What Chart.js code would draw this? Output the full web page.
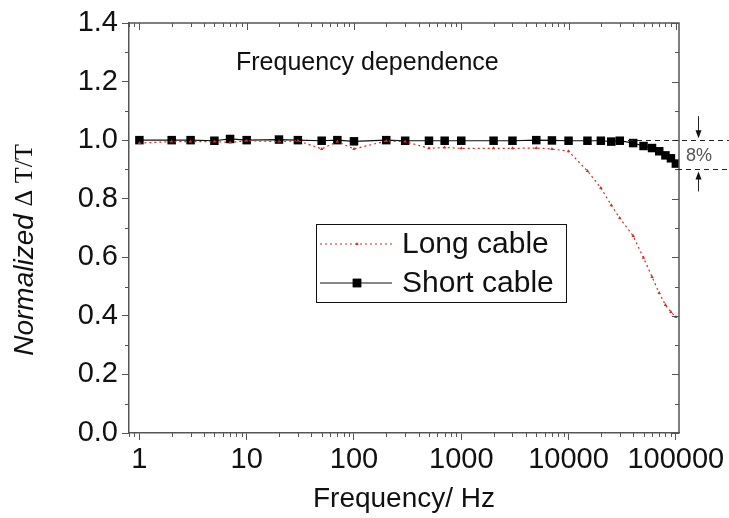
<!DOCTYPE html>
<html>
<head>
<meta charset="utf-8">
<script src="https://cdn.jsdelivr.net/npm/chart.js@4.4.1/dist/chart.umd.min.js"></script>
<style>
  html, body { margin: 0; padding: 0; background: #fff; }
  #c { display: block; }
</style>
</head>
<body>
<canvas id="c" width="729" height="518"></canvas>
<script>
// Measurement frequencies (Hz)
const frequencies = [1, 2, 3, 5, 7, 10, 20, 30, 50, 70, 100, 200, 300, 500, 700,
  1000, 2000, 3000, 5000, 7000, 10000, 15000, 20000, 25000, 30000,
  40000, 50000, 60000, 70000, 80000, 90000, 100000];

// Normalized ΔT/T, long cable
const longCable = [0.990, 0.995, 0.995, 0.995, 0.992, 0.998, 0.995, 0.998, 0.970, 0.995,
  0.970, 0.997, 0.995, 0.972, 0.975, 0.972, 0.972, 0.972, 0.973, 0.970, 0.962,
  0.895, 0.837, 0.778, 0.734, 0.673, 0.598, 0.533, 0.478, 0.437, 0.413, 0.396];

// Normalized ΔT/T, short cable
const shortCable = [1.000, 1.000, 1.000, 0.998, 1.004, 1.000, 1.002, 1.000, 0.998, 1.000,
  0.996, 1.000, 0.998, 0.998, 0.998, 0.998, 0.998, 0.998, 1.000, 0.999, 0.998,
  0.998, 0.998, 0.995, 0.998, 0.990, 0.980, 0.973, 0.962, 0.948, 0.938, 0.920];

const xMajorTicks = [1, 10, 100, 1000, 10000, 100000];
const yMajorTicks = [0, 0.2, 0.4, 0.6, 0.8, 1.0, 1.2, 1.4];
const yMinorTicks = [0.1, 0.3, 0.5, 0.7, 0.9, 1.1, 1.3];

// Reference levels marked at the right edge (8% drop)
const dropLevels = [1.0, 0.9];
const dropLabel = '8%';

const AXIS = '#555';
const SANS = '"Liberation Sans", Arial, sans-serif';

function xMinorTicks(min, max) {
  const out = [];
  for (let e = -1; e <= 5; e++) {
    for (let m = 2; m <= 9; m++) {
      const v = m * Math.pow(10, e);
      if (v >= min && v <= max) out.push(v);
    }
  }
  return out;
}

const framePlugin = {
  id: 'frame',
  afterDraw(chart) {
    const ctx = chart.ctx;
    const x = chart.scales.x, y = chart.scales.y;
    const a = chart.chartArea;
    ctx.save();
    // top and right frame lines
    ctx.strokeStyle = AXIS;
    ctx.lineWidth = 1.5;
    ctx.beginPath();
    ctx.moveTo(a.left, a.top); ctx.lineTo(a.right, a.top); ctx.lineTo(a.right, a.bottom);
    ctx.stroke();

    ctx.lineWidth = 1;
    ctx.beginPath();
    // x ticks: bottom minor outward, top major/minor inward
    xMinorTicks(x.min, x.max).forEach(v => {
      const px = Math.round(x.getPixelForValue(v)) + 0.5;
      ctx.moveTo(px, a.bottom); ctx.lineTo(px, a.bottom + 4);
      ctx.moveTo(px, a.top); ctx.lineTo(px, a.top + 4);
    });
    xMajorTicks.forEach(v => {
      const px = Math.round(x.getPixelForValue(v)) + 0.5;
      ctx.moveTo(px, a.top); ctx.lineTo(px, a.top + 7);
    });
    // y ticks: left minor outward, right major/minor inward
    yMinorTicks.forEach(v => {
      const py = Math.round(y.getPixelForValue(v)) + 0.5;
      ctx.moveTo(a.left - 4, py); ctx.lineTo(a.left, py);
      ctx.moveTo(a.right - 4, py); ctx.lineTo(a.right, py);
    });
    yMajorTicks.forEach(v => {
      const py = Math.round(y.getPixelForValue(v)) + 0.5;
      ctx.moveTo(a.right - 7, py); ctx.lineTo(a.right, py);
    });
    ctx.stroke();

    // y axis title: "Normalized" in italic sans, "Δ T/T" in serif
    ctx.save();
    ctx.translate(25, 250);
    ctx.rotate(-Math.PI / 2);
    ctx.fillStyle = '#111';
    ctx.textBaseline = 'middle';
    const f1 = 'italic 28px ' + SANS;
    const f2 = '26px "Liberation Serif", "Times New Roman", serif';
    ctx.font = f1;
    const t1 = 'Normalized ';
    const w1 = ctx.measureText(t1).width;
    ctx.font = f2;
    const t2 = '\u0394 T/T';
    const w2 = ctx.measureText(t2).width;
    const start = -(w1 + w2) / 2;
    ctx.font = f1; ctx.textAlign = 'left';
    ctx.fillText(t1, start, 0);
    ctx.font = f2;
    ctx.fillText(t2, start + w1, 0);
    ctx.restore();

    // in-plot title
    ctx.fillStyle = '#111';
    ctx.font = '25px ' + SANS;
    ctx.textAlign = 'left';
    ctx.textBaseline = 'alphabetic';
    ctx.fillText('Frequency dependence', 236, 70);

    // legend box
    const lx = 316, ly = 224, lw = 250, lh = 78;
    ctx.fillStyle = '#fff';
    ctx.fillRect(lx, ly, lw, lh);
    ctx.strokeStyle = '#111';
    ctx.lineWidth = 1;
    ctx.strokeRect(lx + 0.5, ly + 0.5, lw, lh);
    chart.data.datasets.forEach((ds, i) => {
      const cy = ly + 20 + i * 39;
      ctx.save();
      ctx.strokeStyle = ds.borderColor;
      ctx.lineWidth = ds.borderWidth;
      ctx.setLineDash(ds.borderDash || []);
      ctx.beginPath();
      ctx.moveTo(lx + 4, cy); ctx.lineTo(lx + 76, cy);
      ctx.stroke();
      ctx.restore();
      Chart.helpers.drawPoint(ctx, {
        pointStyle: ds.pointStyle, radius: ds.pointRadius, borderWidth: 0, rotation: 0
      }, lx + 41, cy);
      ctx.fillStyle = ds.pointBackgroundColor;
      ctx.fill();
      ctx.fillStyle = '#111';
      ctx.font = '30px ' + SANS;
      ctx.textAlign = 'left';
      ctx.textBaseline = 'middle';
      ctx.fillText(ds.label, lx + 86, cy + 1);
    });

    // 8% drop marker at right edge
    const yTop = y.getPixelForValue(dropLevels[0]);
    const yBot = y.getPixelForValue(dropLevels[1]);
    ctx.strokeStyle = '#222';
    ctx.lineWidth = 1;
    ctx.setLineDash([5, 4]);
    ctx.beginPath();
    ctx.moveTo(628, Math.round(yTop) + 0.5); ctx.lineTo(729, Math.round(yTop) + 0.5);
    ctx.moveTo(677, Math.round(yBot) + 0.5); ctx.lineTo(729, Math.round(yBot) + 0.5);
    ctx.stroke();
    ctx.setLineDash([]);
    const ax = 698.5;
    ctx.beginPath();
    ctx.moveTo(ax, yTop - 24); ctx.lineTo(ax, yTop - 4);
    ctx.moveTo(ax, yBot + 4); ctx.lineTo(ax, yBot + 22);
    ctx.stroke();
    ctx.fillStyle = '#111';
    ctx.beginPath();
    ctx.moveTo(ax - 3, yTop - 10); ctx.lineTo(ax + 3, yTop - 10); ctx.lineTo(ax, yTop - 2); ctx.closePath();
    ctx.moveTo(ax - 3, yBot + 10); ctx.lineTo(ax + 3, yBot + 10); ctx.lineTo(ax, yBot + 2); ctx.closePath();
    ctx.fill();
    ctx.fillStyle = '#555';
    ctx.font = '18px ' + SANS;
    ctx.textAlign = 'center';
    ctx.textBaseline = 'middle';
    ctx.fillText(dropLabel, 699, (yTop + yBot) / 2 + 1);
    ctx.restore();
  }
};

new Chart(document.getElementById('c'), {
  type: 'line',
  data: {
    labels: frequencies,
    datasets: [
      {
        label: 'Long cable',
        data: frequencies.map((f, i) => ({ x: f, y: longCable[i] })),
        borderColor: '#d62828',
        borderWidth: 1.2,
        borderDash: [2, 3],
        pointStyle: 'triangle',
        pointRadius: 2,
        pointBackgroundColor: '#d62828',
        pointBorderColor: '#d62828',
        pointBorderWidth: 0,
        tension: 0
      },
      {
        label: 'Short cable',
        data: frequencies.map((f, i) => ({ x: f, y: shortCable[i] })),
        borderColor: '#111',
        borderWidth: 1.2,
        pointStyle: 'rect',
        pointRadius: 6,
        pointBackgroundColor: '#000',
        pointBorderColor: '#000',
        pointBorderWidth: 0,
        tension: 0
      }
    ]
  },
  options: {
    responsive: false,
    animation: false,
    layout: { padding: { top: 23, right: 50, left: 0, bottom: 0 } },
    plugins: { legend: { display: false }, tooltip: { enabled: false } },
    scales: {
      x: {
        type: 'logarithmic',
        min: 0.8,
        max: 107000,
        afterBuildTicks: s => { s.ticks = xMajorTicks.map(v => ({ value: v })); },
        afterFit: s => { s.height = 85; },
        ticks: {
          autoSkip: false,
          maxRotation: 0,
          padding: 3,
          color: '#111',
          font: { family: SANS, size: 29 },
          callback: v => String(v)
        },
        grid: { display: true, drawOnChartArea: false, drawTicks: true, tickLength: 7, tickColor: AXIS, tickWidth: 1 },
        border: { display: true, color: AXIS, width: 1.5 },
        title: { display: true, text: 'Frequency/ Hz', color: '#111', font: { family: SANS, size: 28 }, padding: { top: 0, bottom: 2 } }
      },
      y: {
        min: 0,
        max: 1.4,
        afterBuildTicks: s => { s.ticks = yMajorTicks.map(v => ({ value: v })); },
        afterFit: s => { s.width = 129; },
        ticks: {
          padding: 4,
          color: '#111',
          font: { family: SANS, size: 29 },
          callback: v => Number(v).toFixed(1)
        },
        grid: { display: true, drawOnChartArea: false, drawTicks: true, tickLength: 7, tickColor: AXIS, tickWidth: 1 },
        border: { display: true, color: AXIS, width: 1.5 }
      }
    }
  },
  plugins: [framePlugin]
});
</script>
</body>
</html>
